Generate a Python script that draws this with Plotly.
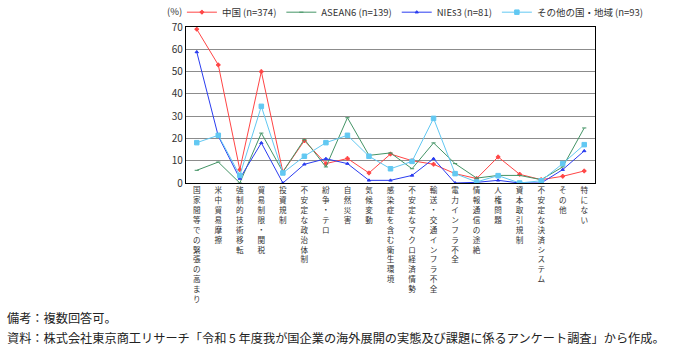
import plotly.graph_objects as go

categories = [
    "国家間等での緊張の高まり", "米中貿易摩擦", "強制的技術移転", "貿易制限・関税", "投資規制",
    "不安定な政治体制", "紛争・テロ", "自然災害", "気候変動", "感染症を含む衛生環境",
    "不安定なマクロ経済情勢", "輸送・交通インフラ不全", "電力インフラ不全", "情報通信の途絶",
    "人権問題", "資本取引規制", "不安定な決済システム", "その他", "特にない",
]
china = [69, 53, 6, 50, 5, 19, 8.7, 11, 4.5, 13, 10, 8.4, 4.2, 2, 11.7, 3.9, 1.5, 3, 5.4]
asean6 = [5.7, 9.4, 0, 22.4, 5, 19.6, 7.2, 29.3, 12.4, 13.5, 6.4, 18, 8.7, 2.2, 3.4, 3.4, 1.5, 7.2, 24.7]
nies3 = [58.8, 21, 2, 18, 0, 8.4, 10.9, 8.7, 1.2, 1.2, 3.4, 10.9, 0, 0.3, 1.2, 0, 0, 6, 14.4]
others = [18.1, 21.4, 3.4, 34.4, 4.5, 12, 18.1, 21.4, 12, 6.4, 9.7, 29, 4.2, 0.5, 3.3, 0, 1, 8.7, 17.2]

series = [
    ("中国 (n=374)", china, "#ff4545", "cross", 3),
    ("ASEAN6 (n=139)", asean6, "#449466", "line-ew", 3),
    ("NIEs3 (n=81)", nies3, "#2a3cf0", "triangle-up", 3),
    ("その他の国・地域 (n=93)", others, "#62c8f2", "square", 4.5),
]

idx = list(range(len(categories)))
fig = go.Figure()
for name, vals, color, sym, sz in series:
    fig.add_trace(go.Scatter(
        x=idx, y=vals, name=name, mode="lines+markers",
        line=dict(color=color, width=1),
        marker=dict(color=color, symbol=sym, size=sz, line=dict(color=color, width=1)),
    ))

ticktext = ["<br>".join(list(c)) for c in categories]

fig.update_layout(
    width=687, height=354,
    margin=dict(l=186, r=92, t=27, b=171, autoexpand=False),
    paper_bgcolor="white", plot_bgcolor="white",
    font=dict(family="Noto Sans CJK JP", size=10, color="#333"),
    legend=dict(orientation="h", xref="paper", yref="paper",
                x=-0.01, xanchor="left", y=1.095, yanchor="middle",
                font=dict(size=9.5), itemwidth=30, tracegroupgap=0,
                borderwidth=0, bgcolor="rgba(0,0,0,0)"),
    xaxis=dict(
        range=[-0.5, len(categories) - 0.5], tickmode="array", tickvals=idx, ticktext=ticktext,
        tickangle=0, tickfont=dict(size=7.6, color="#333"), showgrid=False, zeroline=False,
        showline=True, linecolor="black", linewidth=1.2, mirror=True, ticks="",
    ),
    yaxis=dict(
        range=[0, 70], dtick=10, tickfont=dict(size=10, color="#333"),
        showgrid=True, gridcolor="#8c8c8c", gridwidth=1, zeroline=False,
        showline=True, linecolor="black", linewidth=1.2, mirror=True, ticks="",
    ),
)

fig.add_annotation(text="(%)", xref="paper", yref="paper", x=-0.027, y=1.105,
                   xanchor="center", yanchor="middle", showarrow=False, font=dict(size=9.5))
fig.add_annotation(text="備考：複数回答可。", xref="paper", yref="paper",
                   x=-0.4425, y=-0.865, xanchor="left", yanchor="middle", showarrow=False,
                   font=dict(size=12.2, color="#222"))
fig.add_annotation(text="資料：株式会社東京商工リサーチ「令和 5 年度我が国企業の海外展開の実態及び課題に係るアンケート調査」から作成。",
                   xref="paper", yref="paper",
                   x=-0.4425, y=-0.994, xanchor="left", yanchor="middle", showarrow=False,
                   font=dict(size=12.2, color="#222"))

fig.write_html("out.html")
